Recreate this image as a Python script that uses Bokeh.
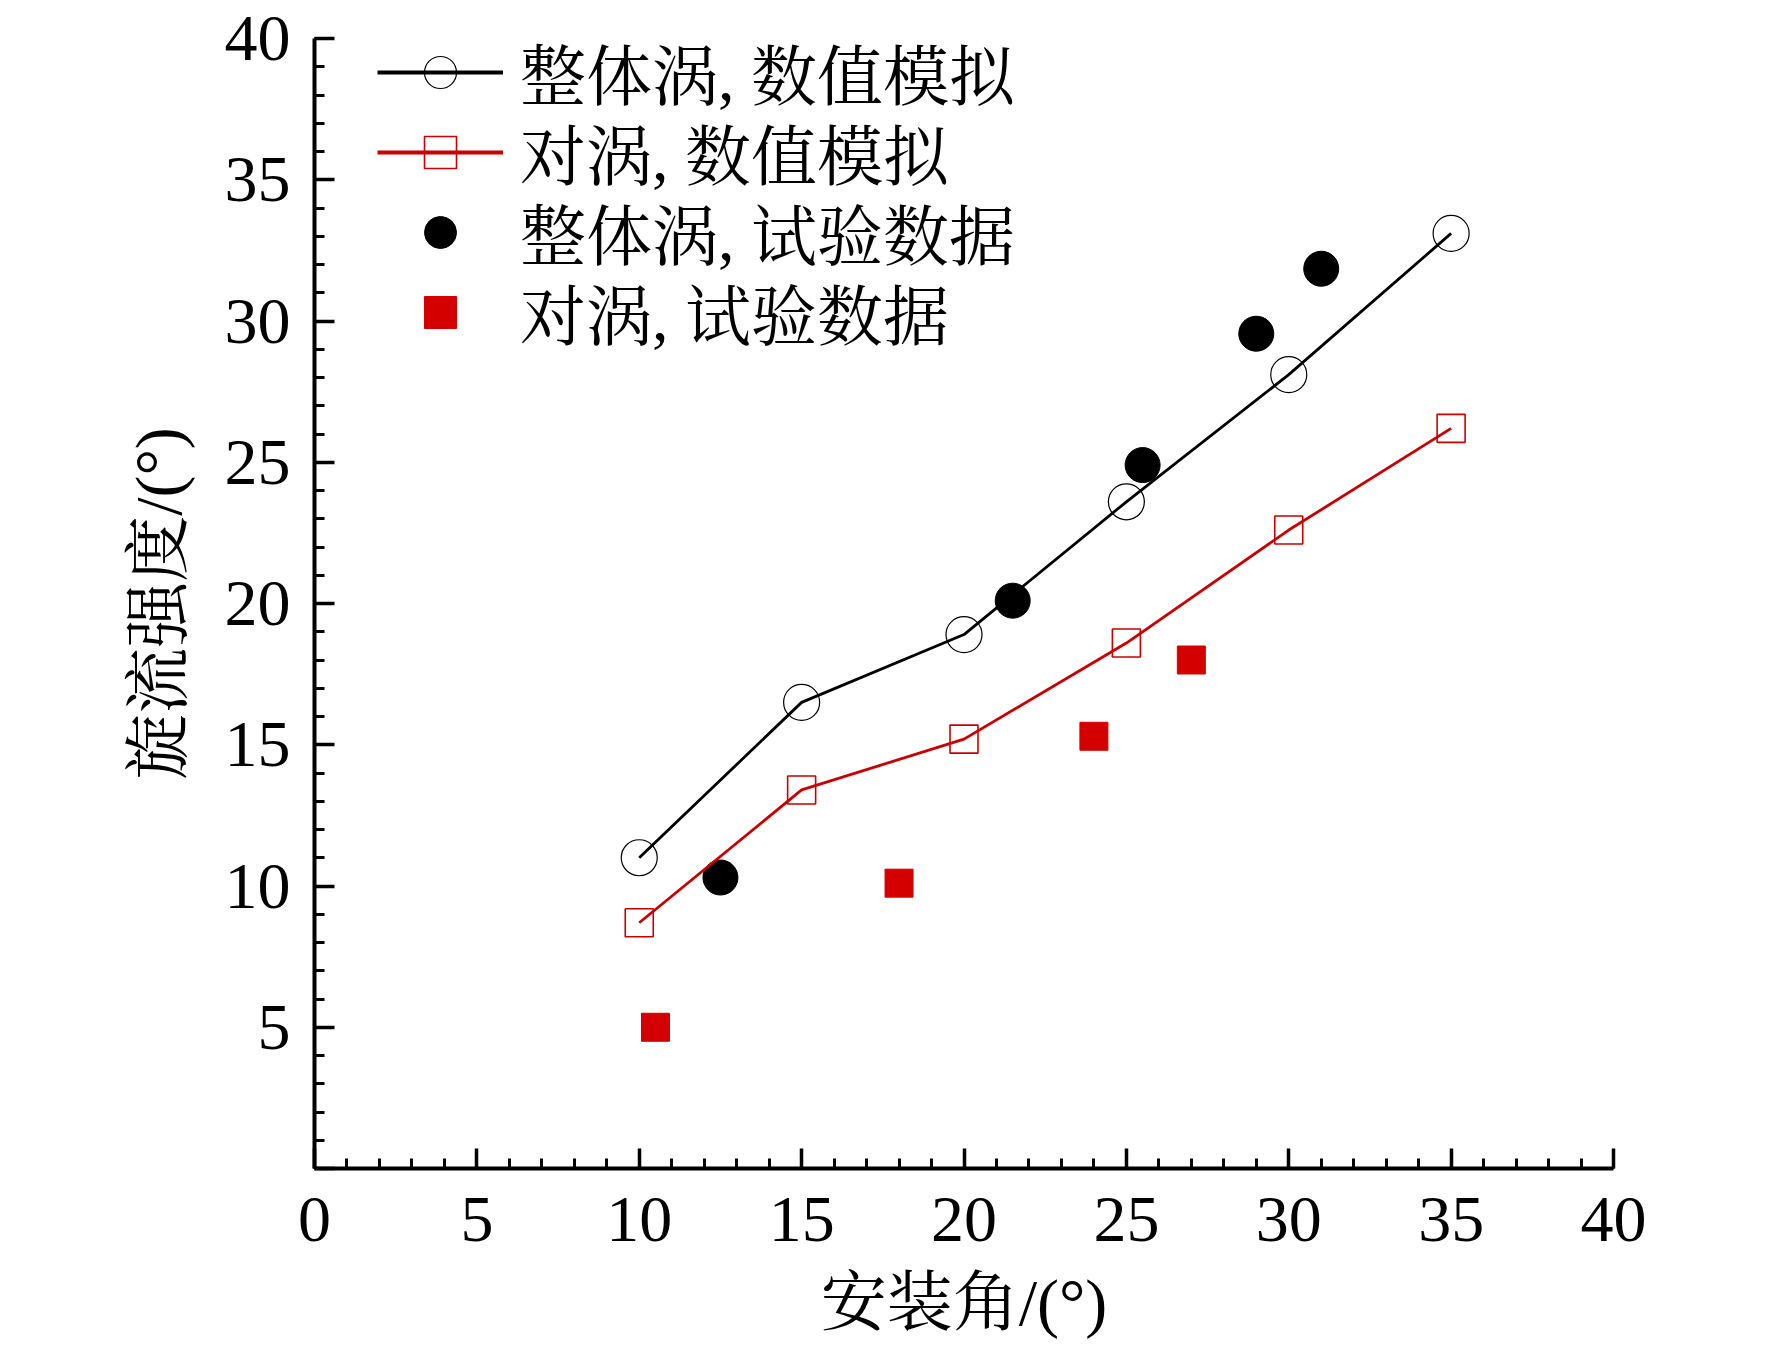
from bokeh.plotting import figure
from bokeh.models import FixedTicker, Legend, LegendItem, ColumnDataSource, Range1d
from bokeh.embed import file_html
from bokeh.resources import INLINE

# ---- data ----
angle_sim = [10, 15, 20, 25, 30, 35]
whole_sim = [11.0, 16.5, 18.9, 23.6, 28.1, 33.1]
pair_sim = [8.7, 13.4, 15.2, 18.6, 22.6, 26.2]

whole_exp_angle = [12.5, 21.5, 25.5, 29.0, 31.0]
whole_exp = [10.3, 20.1, 24.9, 29.55, 31.85]

pair_exp_angle = [10.5, 18.0, 24.0, 27.0]
pair_exp = [5.0, 10.1, 15.3, 18.0]

labels = ["整体涡, 数值模拟", "对涡, 数值模拟", "整体涡, 试验数据", "对涡, 试验数据"]
x_title = "安装角/(°)"
y_title = "旋流强度/(°)"
major_ticks = [0, 5, 10, 15, 20, 25, 30, 35, 40]
minor_ticks = list(range(0, 41))

FONT = "'Liberation Serif', 'Times New Roman', 'Noto Serif CJK SC', 'Noto Sans CJK SC', serif"
FS = "66px"
RED = "#cc0000"
RED_FILL = "#d40000"

p = figure(width=1756, height=1342, output_backend="svg", toolbar_location=None,
           x_range=Range1d(0, 40), y_range=Range1d(0, 40),
           min_border_left=314, min_border_right=143, min_border_top=38, min_border_bottom=174)
p.grid.visible = False
p.outline_line_color = None
p.background_fill_color = "white"
p.border_fill_color = "white"

for ax in (p.xaxis[0], p.yaxis[0]):
    ax.ticker = FixedTicker(ticks=major_ticks, minor_ticks=minor_ticks)
    ax.axis_line_width = 4
    ax.axis_line_color = "black"
    ax.major_tick_in = 20
    ax.major_tick_out = 0
    ax.minor_tick_in = 10
    ax.minor_tick_out = 0
    ax.major_tick_line_width = 3.5
    ax.minor_tick_line_width = 3
    ax.major_label_text_font = FONT
    ax.major_label_text_font_size = FS
    ax.major_label_text_color = "black"
    ax.axis_label_text_font = FONT
    ax.axis_label_text_font_size = FS
    ax.axis_label_text_font_style = "normal"
    ax.axis_label_text_color = "black"

p.xaxis.axis_label = x_title
p.yaxis.axis_label = y_title
p.yaxis.major_label_overrides = {0: ""}
p.xaxis.major_label_standoff = 29
p.xaxis.axis_label_standoff = 22
p.yaxis.major_label_standoff = 24
p.yaxis.axis_label_standoff = 27

# experimental points
p.scatter(whole_exp_angle, whole_exp, marker="circle", size=35,
          fill_color="black", line_color="black")
p.scatter(pair_exp_angle, pair_exp, marker="square", size=28,
          fill_color=RED_FILL, line_color=RED_FILL)

# simulation lines
p.line(angle_sim, whole_sim, line_color="black", line_width=2.8)
p.line(angle_sim, pair_sim, line_color=RED, line_width=2.8)
p.scatter(angle_sim, whole_sim, marker="circle", size=36,
          fill_color=None, line_color="black", line_width=1.2)
p.scatter(angle_sim, pair_sim, marker="square", size=28,
          fill_color=None, line_color=RED, line_width=1.6)

# legend proxies (sources holding a single NaN point, so nothing is drawn on the plot)
nan = float("nan")


def proxy():
    return ColumnDataSource(data=dict(x=[nan], y=[nan]))


l1 = p.line("x", "y", source=proxy(), line_color="black", line_width=4)
m1 = p.scatter("x", "y", source=proxy(), marker="circle", fill_color=None,
               line_color="black", line_width=1.2)
l2 = p.line("x", "y", source=proxy(), line_color=RED, line_width=4)
m2 = p.scatter("x", "y", source=proxy(), marker="square", fill_color=None,
               line_color=RED, line_width=1.6)
m3 = p.scatter("x", "y", source=proxy(), marker="circle", fill_color="black",
               line_color="black")
m4 = p.scatter("x", "y", source=proxy(), marker="square", fill_color=RED_FILL,
               line_color=RED_FILL)

item_renderers = [[l1, m1], [l2, m2], [m3], [m4]]
legend_rows = [1049, 969, 889, 809]  # bottom of each one-row legend, px above frame bottom

for lab, rends, vy in zip(labels, item_renderers, legend_rows):
    lg = Legend(items=[LegendItem(label=lab, renderers=rends)],
                location=(63, vy), margin=0, padding=0, spacing=0,
                glyph_width=126, glyph_height=80, label_height=80,
                label_standoff=17, label_text_font=FONT, label_text_font_size=FS,
                label_text_color="black", border_line_color=None,
                background_fill_alpha=0)
    p.add_layout(lg, "center")

open("out.html", "w").write(file_html(p, INLINE))
